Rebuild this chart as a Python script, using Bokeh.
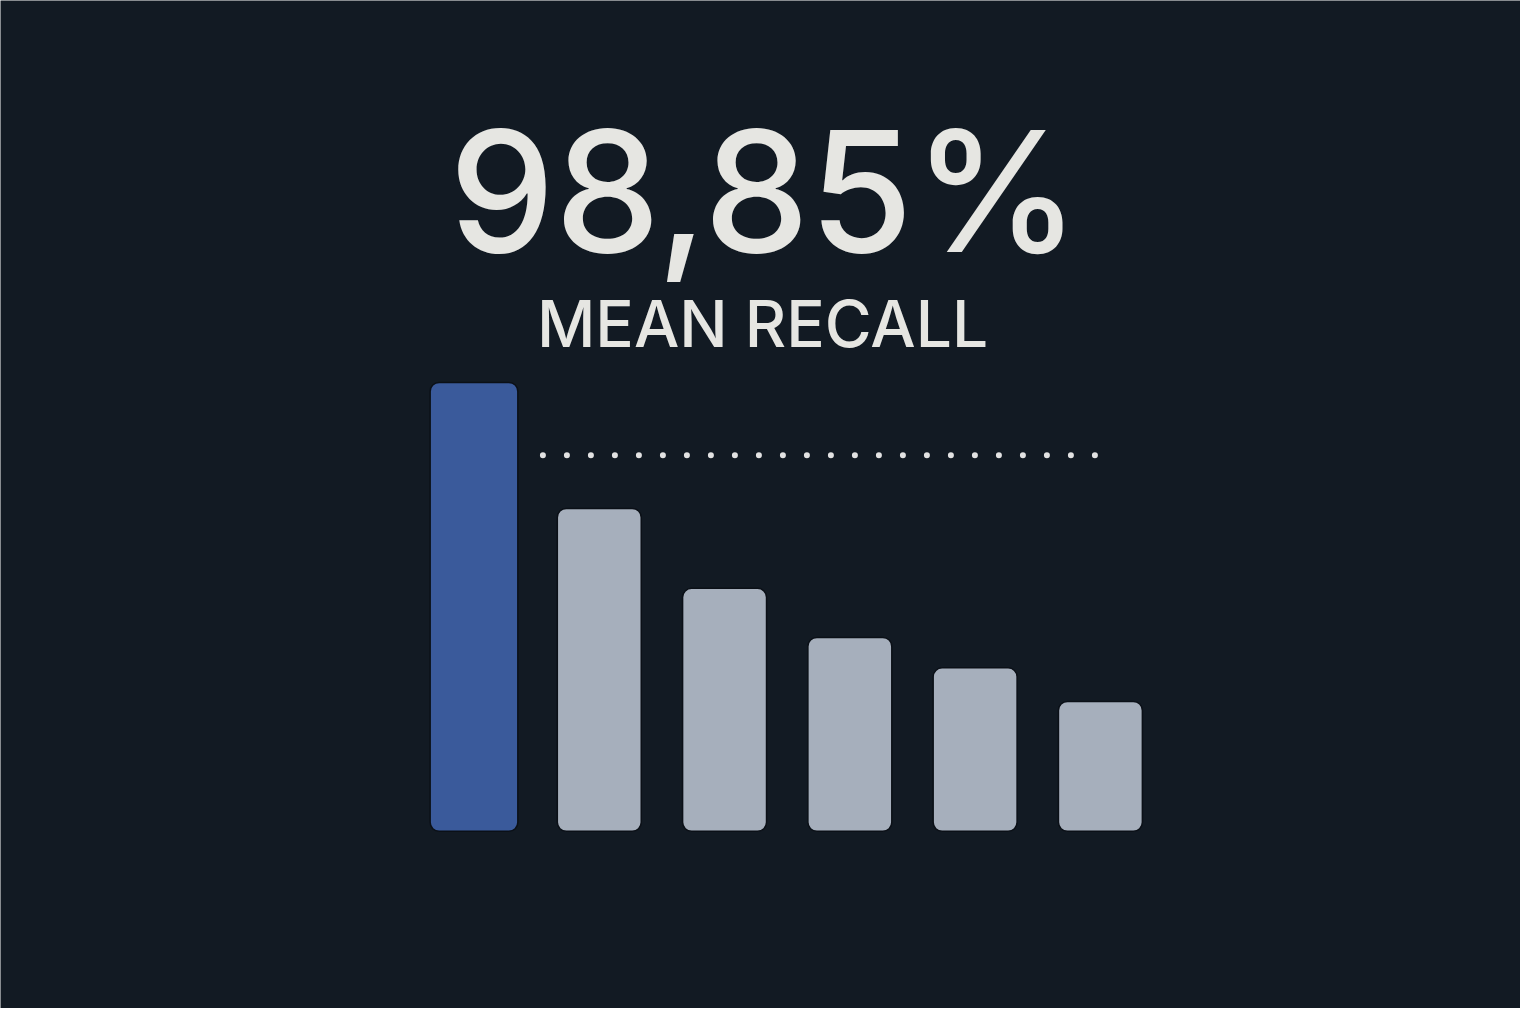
from bokeh.plotting import figure
from bokeh.models import Range1d, Label, ColumnDataSource
from bokeh.embed import file_html
from bokeh.resources import INLINE

# ---- data ----
bar_index = [0, 1, 2, 3, 4, 5]
bar_values = [98.85, 71.1, 53.5, 42.7, 36.0, 28.6]
bar_widths = [0.70, 0.67, 0.67, 0.67, 0.67, 0.67]
bar_colors = ["#3a5a9b", "#a6afbc", "#a6afbc", "#a6afbc", "#a6afbc", "#a6afbc"]
reference_value = 82.8
headline_label = "MEAN RECALL"

BG = "#121a23"
TXT = "#e6e6e2"

W, H = 1520, 1008
px_x = 125.28
px_y = 4.541
x0 = -473.5 / px_x
y0 = -177.2 / px_y

p = figure(width=W, height=H, output_backend="svg", toolbar_location=None,
           x_range=Range1d(x0, x0 + W / px_x), y_range=Range1d(y0, y0 + H / px_y),
           min_border=0, background_fill_color=BG, border_fill_color=BG,
           outline_line_color=None)
p.axis.visible = False
p.grid.visible = False

src = ColumnDataSource(dict(x=bar_index, top=bar_values, w=bar_widths, c=bar_colors))
p.vbar(x="x", top="top", bottom=0, width="w", fill_color="c", line_color="#0b1017",
       line_width=1.5, source=src, border_radius=9)

# dotted reference line
xs = bar_index[0] + 0.55
xe = bar_index[5] - 0.04
p.line([xs, xe], [reference_value, reference_value], line_color="#e2e2e2",
       line_width=6, line_cap="round", line_dash="0 24")

headline = f"{bar_values[0]:.2f}".replace(".", ",") + "%"
p.add_layout(Label(x=764, y=818, x_units="screen", y_units="screen", text=headline,
                   text_align="center", text_baseline="alphabetic",
                   text_font="Inter Medium, Inter", text_font_size="168px",
                   text_color=TXT))
p.add_layout(Label(x=762, y=685, x_units="screen", y_units="screen", text=headline_label,
                   text_align="center", text_baseline="alphabetic",
                   text_font="Inter Medium, Inter", text_font_size="64px", text_color=TXT))

html = file_html(p, INLINE)
html = html.replace("<body>", '<body style="background:%s;">' % BG, 1)
open("out.html", "w").write(html)
